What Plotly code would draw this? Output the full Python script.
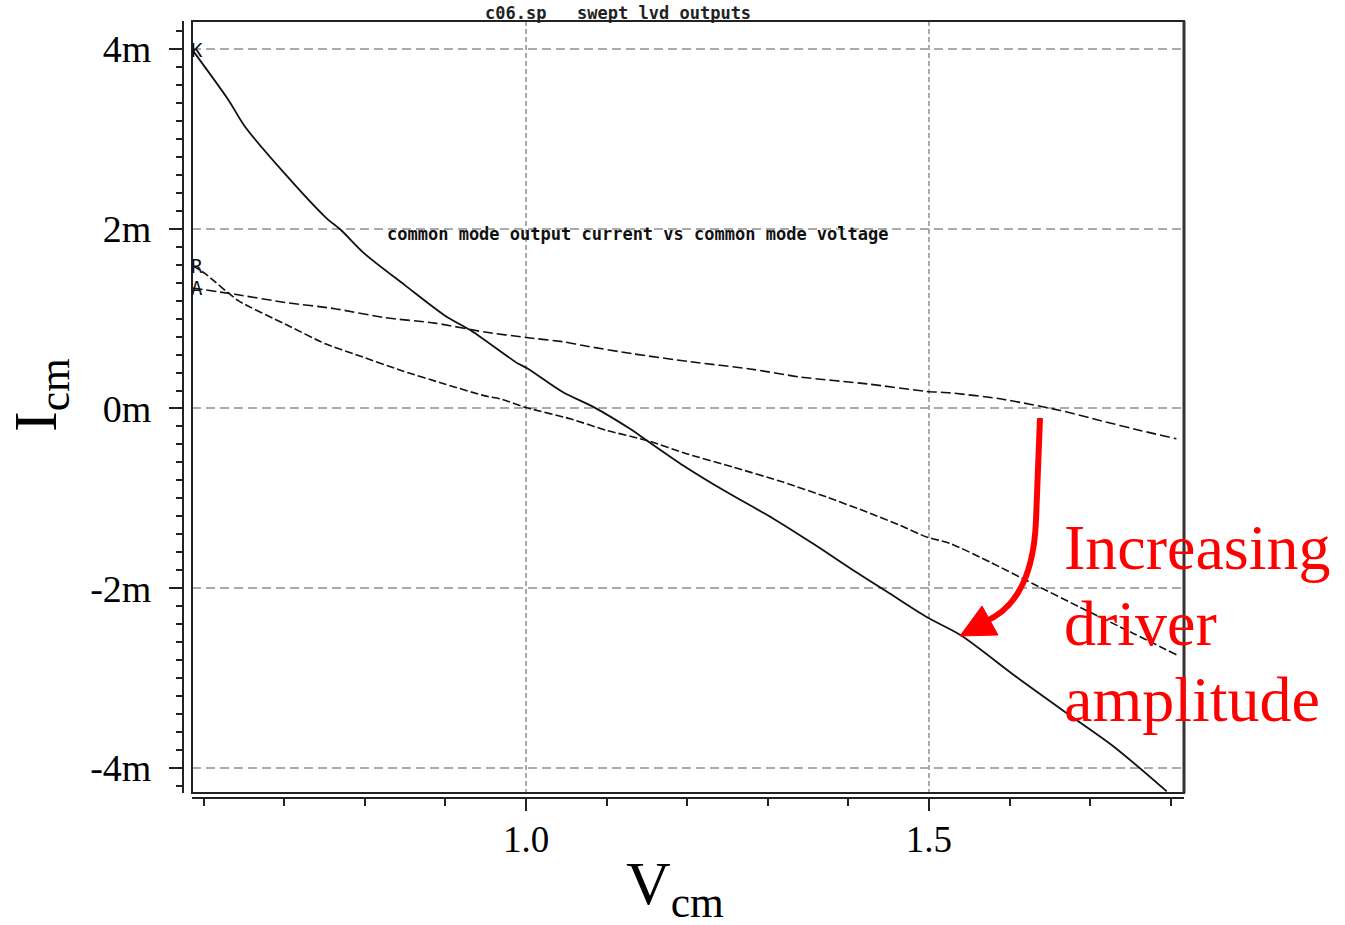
import plotly.graph_objects as go

# ---- data (V in volts, I in mA) ----
v_high = [0.586, 0.631, 0.651, 0.701, 0.751, 0.771, 0.800, 0.850, 0.900, 0.933, 0.990, 1.001,
          1.046, 1.084, 1.129, 1.150, 1.195, 1.249, 1.307, 1.356, 1.406, 1.448, 1.497, 1.539,
          1.609, 1.671, 1.729, 1.795]
i_high = [3.99, 3.43, 3.14, 2.61, 2.13, 1.98, 1.72, 1.37, 1.03, 0.86, 0.50, 0.45,
          0.18, 0.015, -0.226, -0.356, -0.633, -0.93, -1.226, -1.503, -1.80, -2.04, -2.32, -2.52,
          -2.99, -3.39, -3.76, -4.26]

v_mid = [0.586, 0.602, 0.643, 0.701, 0.751, 0.792, 0.846, 0.900, 0.949, 0.968, 1.001, 1.055,
         1.100, 1.150, 1.199, 1.257, 1.319, 1.373, 1.423, 1.464, 1.497, 1.526, 1.576, 1.629,
         1.687, 1.753, 1.807]
i_mid = [1.59, 1.50, 1.20, 0.94, 0.72, 0.59, 0.42, 0.27, 0.14, 0.108, 0.008, -0.115,
         -0.244, -0.356, -0.503, -0.652, -0.819, -0.985, -1.152, -1.30, -1.43, -1.50, -1.71, -1.95,
         -2.21, -2.50, -2.74]

v_low = [0.586, 0.639, 0.701, 0.763, 0.825, 0.887, 0.949, 1.000, 1.048, 1.071, 1.133, 1.204,
         1.278, 1.340, 1.423, 1.497, 1.526, 1.588, 1.663, 1.712, 1.762, 1.807]
i_low = [1.34, 1.27, 1.18, 1.11, 1.01, 0.95, 0.85, 0.79, 0.74, 0.70, 0.608, 0.52,
         0.44, 0.35, 0.274, 0.19, 0.174, 0.108, -0.022, -0.133, -0.244, -0.337]

curve_labels = ["K", "R", "A"]
y_tickvals = [-4, -2, 0, 2, 4]
y_ticktext = ["-4m", "-2m", "0m", "2m", "4m"]

title_text = "c06.sp   swept lvd outputs"
plot_label = "common mode output current vs common mode voltage"
note_lines = ["Increasing", "driver", "amplitude"]

W, H = 1345, 925
L, R, T, B = 183, 161, 21, 127

def px(x):
    return (x - L) / (W - L - R)

def py(y):
    return (H - B - y) / (H - T - B)

serif = "Liberation Serif, Times New Roman, serif"
mono = "DejaVu Sans Mono, monospace"

fig = go.Figure()
fig.add_trace(go.Scatter(x=v_high, y=i_high, mode="lines",
                         line=dict(color="#111", width=1.8, shape="spline", smoothing=0.8)))
fig.add_trace(go.Scatter(x=v_mid, y=i_mid, mode="lines",
                         line=dict(color="#111", width=1.6, dash="8px,3px",
                                   shape="spline", smoothing=0.6)))
fig.add_trace(go.Scatter(x=v_low, y=i_low, mode="lines",
                         line=dict(color="#111", width=1.6, dash="10px,4px",
                                   shape="spline", smoothing=0.6)))

grid_col = "#aaaaaa"
fig.update_layout(
    width=W, height=H,
    margin=dict(l=L, r=R, t=T, b=B, autoexpand=False),
    paper_bgcolor="white", plot_bgcolor="white",
    showlegend=False,
    xaxis=dict(
        range=[0.5856, 1.8164], domain=[px(192), 1], anchor="free", position=0,
        showline=True, linecolor="#222", linewidth=2,
        ticks="outside", ticklen=12, tickwidth=2, tickcolor="#222",
        tick0=0, dtick=0.5, tickformat=".1f",
        tickfont=dict(family=serif, size=37, color="black"),
        ticklabelstandoff=-3,
        showgrid=True, gridcolor=grid_col, gridwidth=1.5, griddash="5px,3px",
        zeroline=False,
        minor=dict(ticks="outside", ticklen=7, tickwidth=2, tickcolor="#222",
                   tick0=0, dtick=0.1, showgrid=False),
    ),
    yaxis=dict(
        range=[-4.278, 4.311], domain=[py(793), 1], anchor="free", position=0,
        showline=True, linecolor="#222", linewidth=2,
        ticks="outside", ticklen=13, tickwidth=2, tickcolor="#222",
        tickmode="array", tickvals=y_tickvals, ticktext=y_ticktext,
        tickfont=dict(family=serif, size=38, color="black"),
        ticklabelstandoff=10,
        showgrid=True, gridcolor=grid_col, gridwidth=1.5, griddash="9px,5px",
        zeroline=False,
        minor=dict(ticks="outside", ticklen=6, tickwidth=1.5, tickcolor="#222",
                   tick0=0, dtick=0.2, showgrid=False),
    ),
)

# frame around plotting region
fig.add_shape(type="rect", xref="x domain", yref="y domain", x0=0, x1=1, y0=0, y1=1,
              line=dict(color="#222", width=2), layer="above")
fig.add_shape(type="line", xref="x domain", yref="y domain", x0=1, x1=1, y0=0, y1=1,
              line=dict(color="#333", width=3), layer="above")

# curve labels at start of each curve
starts = [(v_high[0], i_high[0]), (v_mid[0], i_mid[0]), (v_low[0], i_low[0])]
for lab, (sx, sy) in zip(curve_labels, starts):
    fig.add_annotation(x=sx, y=sy, xref="x", yref="y", text=lab, showarrow=False,
                       xanchor="left", yanchor="middle", xshift=-3,
                       font=dict(family=mono, size=19, color="#111"))

# title & inner label
fig.add_annotation(x=px(618), y=py(13), xref="paper", yref="paper", text=title_text,
                   showarrow=False, xanchor="center", yanchor="middle",
                   font=dict(family=mono, size=17, color="#222", weight="bold"))
fig.add_annotation(x=px(638), y=py(234), xref="paper", yref="paper", text=plot_label,
                   showarrow=False, xanchor="center", yanchor="middle",
                   font=dict(family=mono, size=17, color="#111", weight="bold"))

# axis titles
fig.add_annotation(x=px(39), y=py(395), xref="paper", yref="paper",
                   text="I<sub>cm</sub>", showarrow=False, textangle=-90,
                   xanchor="center", yanchor="middle",
                   font=dict(family=serif, size=62, color="black"))
fig.add_annotation(x=px(675), y=py(887), xref="paper", yref="paper",
                   text="V<sub>cm</sub>", showarrow=False,
                   xanchor="center", yanchor="middle",
                   font=dict(family=serif, size=62, color="black"))

# red note
for txt, yc in zip(note_lines, [547, 623, 699]):
    fig.add_annotation(x=px(1062), y=py(yc), xref="paper", yref="paper", text=txt,
                       showarrow=False, xanchor="left", yanchor="middle",
                       font=dict(family=serif, size=64, color="#ff0000"))

# red curved arrow
def P(x, y):
    return f"{px(x):.5f},{py(y):.5f}"

shaft = f"M {P(1040, 418)} L {P(1036, 520)} Q {P(1033, 602)} {P(984, 622)}"
fig.add_shape(type="path", xref="paper", yref="paper", path=shaft,
              line=dict(color="#ff0000", width=6), layer="above")
head = f"M {P(960, 636)} L {P(982, 606)} L {P(998, 635)} Z"
fig.add_shape(type="path", xref="paper", yref="paper", path=head,
              line=dict(color="#ff0000", width=1), fillcolor="#ff0000", layer="above")

fig.write_html("out.html")
